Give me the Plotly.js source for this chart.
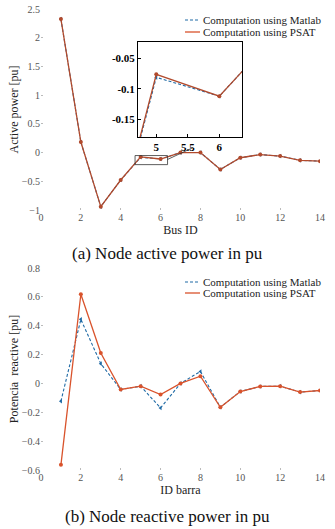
<!DOCTYPE html>
<html>
<head>
<meta charset="utf-8">
<script src="https://cdn.plot.ly/plotly-3.0.1.min.js"></script>
<style>html,body{margin:0;padding:0;background:#fff;}#chart{width:335px;height:529px;}</style>
</head>
<body>
<div id="chart"></div>
<script>
const busIds = [1,2,3,4,5,6,7,8,9,10,11,12,13,14];
const activeMatlab = [2.324,0.183,-0.942,-0.478,-0.081,-0.112,0.0,0.0,-0.295,-0.09,-0.035,-0.061,-0.135,-0.149];
const activePsat   = [2.324,0.183,-0.942,-0.478,-0.076,-0.112,0.0,0.0,-0.295,-0.09,-0.035,-0.061,-0.135,-0.149];
const reactiveMatlab = [-0.123,0.444,0.137,-0.042,-0.019,-0.17,0.0,0.083,-0.165,-0.056,-0.021,-0.019,-0.06,-0.049];
const reactivePsat   = [-0.564,0.618,0.211,-0.042,-0.019,-0.077,0.0,0.05,-0.165,-0.056,-0.021,-0.019,-0.06,-0.049];
const legendNames = ['Computation using Matlab','Computation using PSAT'];
const xTicks = [0,2,4,6,8,10,12,14];
const insetXTicks = [5,5.5,6];
const insetYTicks = [-0.15,-0.1,-0.05];
const insetYLabels = ['-0.15','-0.1','-0.05'];

const cM = '#1f6aa5', cP = '#d9532c';
const serif = 'Liberation Serif';

function mk(x,y,xa,ya,color,dash,sym,w){
  return {x:x,y:y,xaxis:xa,yaxis:ya,type:'scatter',mode:'lines+markers',
    line:{color:color,width:w,dash:dash},marker:{color:color,size:4,symbol:sym},showlegend:false,hoverinfo:'skip'};
}
const dashM = '3px,2px';
const traces = [
  mk(busIds,activeMatlab,'x','y',cM,dashM,'triangle-left',1.1),
  mk(busIds,activePsat,'x','y','#b24a2c','solid','circle',1.3),
  mk(busIds,reactiveMatlab,'x2','y2',cM,dashM,'triangle-left',1.1),
  mk(busIds,reactivePsat,'x2','y2',cP,'solid','circle',1.3),
  mk(busIds,activeMatlab,'x3','y3',cM,dashM,'triangle-left',1.1),
  mk(busIds,activePsat,'x3','y3','#b24a2c','solid','circle',1.3)
];

const tickFont = {family:serif,size:10,color:'#555'};
const titleFont = {family:serif,size:12,color:'#222'};
function mainAx(extra){
  return Object.assign({showgrid:false,zeroline:false,showline:false,ticks:'inside',ticklen:2,tickcolor:'#bbb',
    tickfont:tickFont,fixedrange:true},extra);
}
const layout = {
  width:335,height:529,margin:{l:0,r:0,t:0,b:0},paper_bgcolor:'#fff',plot_bgcolor:'rgba(0,0,0,0)',
  font:{family:serif},
  showlegend:false,
  xaxis:mainAx({domain:[41/335,320/335],range:[0,14],tickvals:xTicks,anchor:'y',
    title:{text:'Bus ID',font:titleFont,standoff:2}}),
  yaxis:mainAx({domain:[1-210/529,1-9/529],range:[-1,2.5],dtick:0.5,anchor:'x',
    title:{text:'Active power [pu]',font:titleFont,standoff:0}}),
  xaxis2:mainAx({domain:[41/335,320/335],range:[0,14],tickvals:xTicks,anchor:'y2',
    title:{text:'ID barra',font:titleFont,standoff:2}}),
  yaxis2:mainAx({domain:[1-470/529,1-268/529],range:[-0.6,0.8],dtick:0.2,anchor:'x2',
    title:{text:'Potencia  reactive [pu]',font:titleFont,standoff:0}}),
  xaxis3:{domain:[138/335,242/335],range:[4.71,6.36],anchor:'y3',tickvals:insetXTicks,ticktext:['5','5.5','6'],
    showgrid:false,zeroline:false,showline:true,linecolor:'#000',linewidth:1,mirror:true,ticks:'inside',ticklen:3,tickcolor:'#000',
    tickfont:{family:serif,size:11,color:'#000',weight:'bold'},fixedrange:true},
  yaxis3:{domain:[1-137/529,1-42/529],range:[-0.179,-0.023],anchor:'x3',tickvals:insetYTicks,ticktext:insetYLabels,
    showgrid:false,zeroline:false,showline:true,linecolor:'#000',linewidth:1,mirror:true,ticks:'inside',ticklen:3,tickcolor:'#000',
    tickfont:{family:serif,size:11,color:'#000',weight:'bold'},fixedrange:true},
  shapes:[
    {type:'rect',xref:'x3 domain',yref:'y3 domain',x0:0,x1:1,y0:0,y1:1,fillcolor:'#fff',line:{width:0},layer:'below'},
    {type:'rect',xref:'x',yref:'y',x0:4.72,x1:6.35,y0:-0.21,y1:-0.052,line:{color:'#333',width:0.8},fillcolor:'rgba(0,0,0,0)'},
    {type:'line',xref:'x',yref:'y',x0:6.35,x1:7.63,y0:-0.12,y1:0.087,line:{color:'#333',width:0.8}},
    {type:'line',xref:'paper',yref:'paper',x0:185/335,x1:200/335,y0:1-20/529,y1:1-20/529,line:{color:cM,width:1.1,dash:dashM}},
    {type:'line',xref:'paper',yref:'paper',x0:185/335,x1:200/335,y0:1-32/529,y1:1-32/529,line:{color:cP,width:1.3}},
    {type:'line',xref:'paper',yref:'paper',x0:185/335,x1:200/335,y0:1-282/529,y1:1-282/529,line:{color:cM,width:1.1,dash:dashM}},
    {type:'line',xref:'paper',yref:'paper',x0:185/335,x1:200/335,y0:1-293/529,y1:1-293/529,line:{color:cP,width:1.3}}
  ],
  annotations:[
    {xref:'paper',yref:'paper',x:201/335,y:1-20/529,xanchor:'left',yanchor:'middle',showarrow:false,text:legendNames[0],font:{family:serif,size:11,color:'#222'}},
    {xref:'paper',yref:'paper',x:201/335,y:1-32/529,xanchor:'left',yanchor:'middle',showarrow:false,text:legendNames[1],font:{family:serif,size:11,color:'#222'}},
    {xref:'paper',yref:'paper',x:201/335,y:1-282/529,xanchor:'left',yanchor:'middle',showarrow:false,text:legendNames[0],font:{family:serif,size:11,color:'#222'}},
    {xref:'paper',yref:'paper',x:201/335,y:1-293/529,xanchor:'left',yanchor:'middle',showarrow:false,text:legendNames[1],font:{family:serif,size:11,color:'#222'}},
    {xref:'paper',yref:'paper',x:167/335,y:1-254/529,xanchor:'center',yanchor:'middle',showarrow:false,text:'(a) Node active power in pu',font:{family:serif,size:17,color:'#111'}},
    {xref:'paper',yref:'paper',x:167/335,y:1-516/529,xanchor:'center',yanchor:'middle',showarrow:false,text:'(b) Node reactive power in pu',font:{family:serif,size:17,color:'#111'}}
  ]
};
Plotly.newPlot('chart',traces,layout,{staticPlot:true,displayModeBar:false});
</script>
</body>
</html>
